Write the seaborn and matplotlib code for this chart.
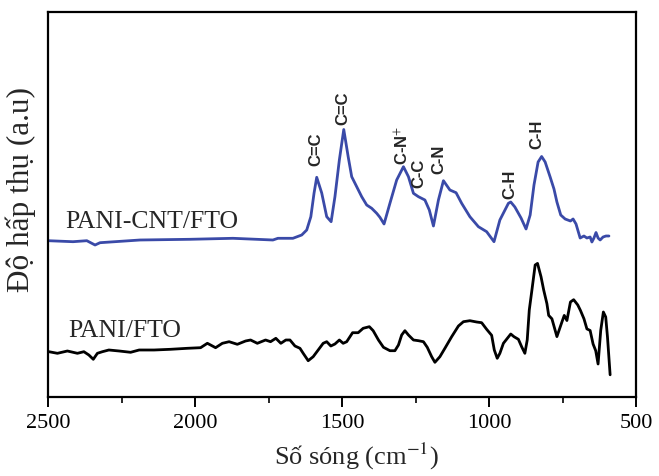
import matplotlib
matplotlib.use("Agg")
import matplotlib.pyplot as plt
import seaborn as sns
import pandas as pd

# PANI-CNT/FTO spectrum (wavenumber cm-1, absorbance a.u.)
cnt_wavenumber = [2500, 2415, 2368, 2340, 2323, 2187, 2017, 1871, 1735, 1718,
                  1667, 1637, 1620, 1606, 1595, 1586, 1569, 1552, 1537, 1524,
                  1509, 1494, 1479, 1467, 1450, 1433, 1416, 1399, 1382, 1371,
                  1357, 1337, 1314, 1291, 1274, 1257, 1240, 1218, 1203, 1189,
                  1172, 1155, 1133, 1112, 1093, 1065, 1036, 1008, 983, 963,
                  934, 926, 912, 891, 874, 860, 847, 833, 821, 809,
                  792, 779, 769, 756, 741, 723, 714, 704, 690, 677,
                  667, 656, 650, 643, 636, 629, 622, 612, 602, 592]
cnt_absorbance = [1.563, 1.553, 1.563, 1.52, 1.543, 1.57, 1.577, 1.587, 1.57, 1.587,
                  1.587, 1.62, 1.67, 1.803, 2.04, 2.197, 2.04, 1.803, 1.753, 2.003,
                  2.37, 2.675, 2.403, 2.203, 2.103, 2.003, 1.92, 1.887, 1.837, 1.797,
                  1.73, 1.937, 2.17, 2.303, 2.203, 2.037, 2.003, 1.97, 1.87, 1.71,
                  1.97, 2.163, 2.07, 2.043, 1.937, 1.803, 1.703, 1.653, 1.553, 1.77,
                  1.937, 1.95, 1.90, 1.79, 1.68, 1.82, 2.12, 2.35, 2.405, 2.35,
                  2.20, 2.08, 1.95, 1.82, 1.78, 1.76, 1.78, 1.73, 1.59, 1.61,
                  1.59, 1.60, 1.55, 1.59, 1.645, 1.59, 1.57, 1.60, 1.61, 1.61]

# PANI/FTO spectrum
pani_wavenumber = [2497, 2468, 2434, 2400, 2378, 2361, 2346, 2332, 2315, 2293,
                   2258, 2219, 2190, 2139, 2083, 2026, 1981, 1958, 1947, 1930,
                   1907, 1884, 1856, 1828, 1811, 1788, 1760, 1743, 1725, 1708,
                   1691, 1677, 1660, 1643, 1632, 1615, 1598, 1581, 1564, 1552,
                   1538, 1524, 1509, 1496, 1484, 1464, 1445, 1428, 1407, 1394,
                   1376, 1359, 1337, 1320, 1308, 1297, 1286, 1274, 1257, 1240,
                   1223, 1210, 1195, 1184, 1167, 1150, 1127, 1104, 1087, 1065,
                   1042, 1025, 1008, 991, 982, 972, 963, 951, 926, 915,
                   900, 889, 878, 870, 863, 854, 843, 835, 823, 814,
                   803, 797, 786, 769, 752, 744, 735, 723, 712, 698,
                   689, 677, 667, 656, 646, 637, 629, 620, 611, 603,
                   597, 588]
pani_absorbance = [0.453, 0.437, 0.46, 0.437, 0.453, 0.42, 0.377, 0.437, 0.453, 0.47,
                   0.46, 0.447, 0.47, 0.47, 0.477, 0.487, 0.493, 0.537, 0.52, 0.493,
                   0.537, 0.553, 0.527, 0.56, 0.57, 0.537, 0.57, 0.553, 0.587, 0.537,
                   0.57, 0.57, 0.51, 0.487, 0.437, 0.363, 0.403, 0.47, 0.537, 0.553,
                   0.51, 0.53, 0.57, 0.537, 0.553, 0.643, 0.643, 0.687, 0.703, 0.663,
                   0.57, 0.497, 0.463, 0.463, 0.52, 0.62, 0.663, 0.62, 0.57, 0.563,
                   0.553, 0.497, 0.403, 0.347, 0.403, 0.487, 0.603, 0.71, 0.753, 0.763,
                   0.75, 0.743, 0.677, 0.617, 0.47, 0.387, 0.437, 0.537, 0.63, 0.603,
                   0.577, 0.503, 0.437, 0.57, 0.87, 1.07, 1.32, 1.336, 1.202, 1.07,
                   0.933, 0.816, 0.782, 0.604, 0.75, 0.816, 0.765, 0.95, 0.973, 0.92,
                   0.866, 0.782, 0.681, 0.665, 0.53, 0.463, 0.33, 0.665, 0.85, 0.80,
                   0.60, 0.222]

# Peak annotations
peak_labels = ["C=C", "C=C", "C-N$^{+}$", "C-C", "C-N", "C-H", "C-H"]
peak_x = [1588, 1497, 1296, 1238, 1172, 930, 837]
peak_y = [2.48, 2.89, 2.52, 2.24, 2.38, 2.13, 2.63]

series_names = ["PANI-CNT/FTO", "PANI/FTO"]
series_label_x = [2442, 2432]
series_label_y = [1.69, 0.60]

x_ticks = [2500, 2000, 1500, 1000, 500]
x_minor = [2250, 1750, 1250, 750]

sns.set_style("white")
plt.rcParams["font.family"] = ["Liberation Serif", "DejaVu Serif"]
plt.rcParams["mathtext.fontset"] = "stix"

fig = plt.figure(figsize=(6.59, 4.76), dpi=100)
ax = fig.add_axes([48 / 659, 1 - 397 / 476, (636 - 48) / 659, (397 - 12) / 476])

df_cnt = pd.DataFrame({"w": cnt_wavenumber, "a": cnt_absorbance})
df_pani = pd.DataFrame({"w": pani_wavenumber, "a": pani_absorbance})
sns.lineplot(data=df_cnt, x="w", y="a", ax=ax, color="#3a4aa8", linewidth=2.0,
             estimator=None, solid_joinstyle="round", solid_capstyle="round")
sns.lineplot(data=df_pani, x="w", y="a", ax=ax, color="black", linewidth=2.0,
             estimator=None, solid_joinstyle="round", solid_capstyle="round")

ax.set_xlim(2500, 500)
ax.set_ylim(0, 3.85)
ax.set_xticks(x_ticks)
ax.set_xticks(x_minor, minor=True)
ax.set_xticklabels([str(t) for t in x_ticks])
ax.set_yticks([])
ax.tick_params(axis="x", which="major", direction="out", length=7, width=1.4,
               labelsize=16, pad=5, bottom=True, colors="black")
ax.tick_params(axis="x", which="minor", direction="out", length=4, width=1.4,
               bottom=True)
for s in ax.spines.values():
    s.set_visible(True)
    s.set_color("black")
    s.set_linewidth(1.6)

ax.set_xlabel("Số sóng (cm$^{-1}$)", fontsize=19)
ax.xaxis.set_label_coords(0.5255, -0.115)
ax.set_ylabel("Độ hấp thụ (a.u)", fontsize=22.5)
ax.yaxis.set_label_coords(-0.021, 0.54)

for lab, px, py in zip(peak_labels, peak_x, peak_y):
    ax.text(px, py, lab, rotation=90, ha="center", va="center", fontsize=12,
            fontweight="bold", family=["Liberation Sans", "DejaVu Sans"])

for name, lx, ly in zip(series_names, series_label_x, series_label_y):
    ax.text(lx, ly, name, ha="left", va="baseline", fontsize=18.5)

fig.savefig("out.png", dpi=100)
